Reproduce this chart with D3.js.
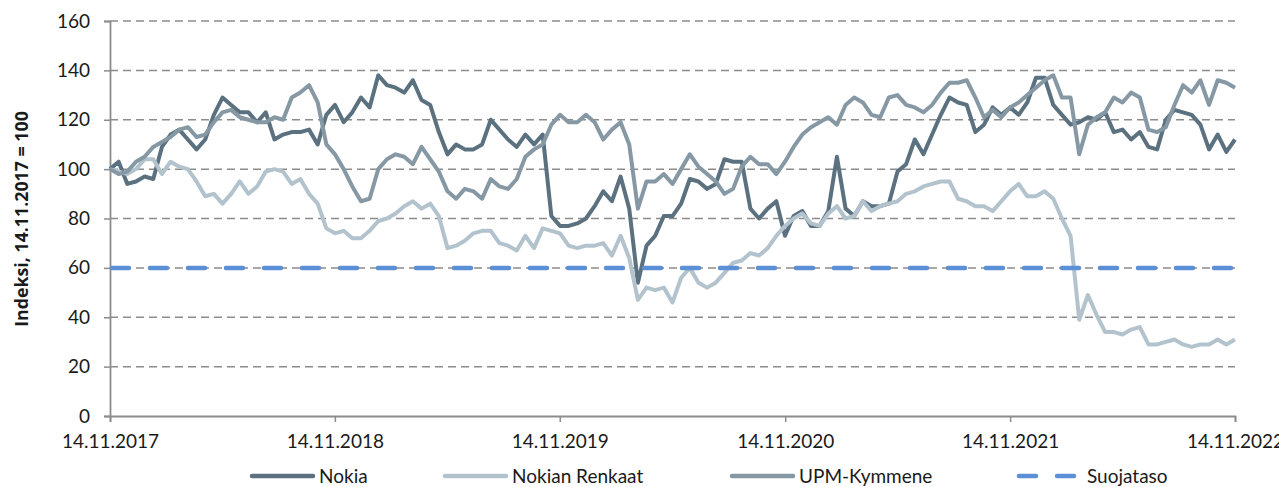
<!DOCTYPE html>
<html><head><meta charset="utf-8">
<script src="https://cdn.jsdelivr.net/npm/d3@7"></script>
<style>
html,body{margin:0;padding:0;background:#fff;}
svg{display:block;}
text{font-family:Lato,"Open Sans",sans-serif;fill:#1a1a1a;}
</style></head>
<body>
<svg id="chart" width="1279" height="487"></svg>
<script>
// ---- data ----
const startDate = "2017-11-14";
const endDate = "2022-11-14";
const yTicks = [0,20,40,60,80,100,120,140,160];
const xTickLabels = ["14.11.2017","14.11.2018","14.11.2019","14.11.2020","14.11.2021","14.11.2022"];
const seriesNames = ["Nokia","Nokian Renkaat","UPM-Kymmene","Suojataso"];
const nokia = [100,103,94,95,97,96,109,114,116,112,108,112,122,129,126,123,123,119,123,112,114,115,115,116,110,122,126,119,123,129,125,138,134,133,131,136,128,126,115,106,110,108,108,110,
120,116,112,109,114,110,114,81,77,77,78,80,85,91,87,97,84,54,69,73,81,81,86,96,95,92,94,104,103,103,84,80,84,87,73,81,83,77,77,83,105,84,81,
87,85,85,86,99,102,112,106,114,122,129,127,126,115,118,125,122,125,122,127,137,137,126,122,118,119,121,120,123,115,116,112,115,109,108,120,124,123,122,118,108,114,107,112];
const nokianRenkaat = [100,99,98,100,104,104,98,103,101,100,95,89,90,86,90,95,90,93,99,100,99,94,96,90,86,76,74,75,72,72,75,79,80,82,85,87,84,86,81,68,69,71,74,75,
75,70,69,67,73,68,76,75,74,69,68,69,69,70,65,73,64,47,52,51,52,46,56,60,54,52,54,58,62,63,66,65,68,73,77,80,82,78,77,82,85,80,81,
87,83,85,86,87,90,91,93,94,95,95,88,87,85,85,83,87,91,94,89,89,91,88,80,73,39,49,41,34,34,33,35,36,29,29,30,31,29,28,29,29,31,29,31];
const upm = [100,98,99,103,105,109,111,113,116,117,113,114,119,123,124,121,120,119,119,121,120,129,131,134,127,110,106,100,93,87,88,100,104,106,105,102,109,104,99,91,88,92,91,88,
96,93,92,96,105,108,110,118,122,119,119,122,119,112,116,119,110,84,95,95,98,94,100,106,101,98,95,90,92,101,105,102,102,98,103,109,114,117,119,121,118,126,129,
127,122,121,129,130,126,125,123,126,131,135,135,136,129,121,124,121,125,127,130,133,136,138,129,129,106,118,121,123,129,127,131,129,116,115,117,126,134,131,136,126,136,135,133];
const suojataso = 60;
const colors = ["#5b717f","#b3c3cd","#8698a4","#5b8fd6"];

// ---- layout ----
const svg = d3.select("#chart");
const L = 110, R = 1235, T = 21, B = 416;
const parse = d3.timeParse("%Y-%m-%d");
const d0 = parse(startDate), d1 = parse(endDate);
const n = nokia.length;
const dates = d3.range(n).map(i => new Date(+d0 + (d1 - d0) * i / (n - 1)));
const x = d3.scaleTime().domain([d0, d1]).range([L, R]);
const y = d3.scaleLinear().domain([0, 160]).range([B, T]);
const yearTicks = xTickLabels.map(s => { const p = s.split("."); return new Date(+p[2], +p[1]-1, +p[0]); });

// gridlines
svg.append("g").selectAll("line").data(yTicks.filter(v => v > 0)).join("line")
  .attr("x1", L).attr("x2", R).attr("y1", d => y(d)).attr("y2", d => y(d))
  .attr("stroke", "#8c8c8c").attr("stroke-width", 1.5).attr("stroke-dasharray", "8,5");

// y axis
const yAxis = d3.axisLeft(y).tickValues(yTicks).tickSize(6).tickPadding(14).tickFormat(d3.format("d"));
const gy = svg.append("g").attr("transform", `translate(${L},0)`).call(yAxis);
gy.select(".domain").attr("stroke", "#8c8c8c").attr("stroke-width", 1.8);
gy.selectAll(".tick line").attr("stroke", "#8c8c8c").attr("stroke-width", 1.5);
gy.selectAll(".tick text").attr("font-size", 19).attr("font-family", "Lato").attr("fill", "#1a1a1a");

// x axis
const xAxis = d3.axisBottom(x).tickValues(yearTicks).tickSize(6).tickPadding(13)
  .tickFormat((d, i) => xTickLabels[i]);
const gx = svg.append("g").attr("transform", `translate(0,${B})`).call(xAxis);
gx.select(".domain").attr("stroke", "#8c8c8c").attr("stroke-width", 1.8);
gx.selectAll(".tick line").attr("stroke", "#8c8c8c").attr("stroke-width", 1.5);
gx.selectAll(".tick text").attr("font-size", 19).attr("font-family", "Lato").attr("fill", "#1a1a1a");

// y title
svg.append("text").attr("transform", `translate(28,219) rotate(-90)`)
  .attr("text-anchor", "middle").attr("font-size", 17.8).attr("font-weight", "bold")
  .style("font-family", "'Open Sans', sans-serif")
  .text("Indeksi, 14.11.2017 = 100");

// series
const line = d3.line().x((d, i) => x(dates[i])).y(d => y(d));
[nokia, nokianRenkaat, upm].forEach((s, k) => {
  svg.append("path").datum(s).attr("d", line).attr("fill", "none")
    .attr("stroke", colors[k]).attr("stroke-width", 4).attr("stroke-linejoin", "round");
});
svg.append("line").attr("x1", x(d0)).attr("x2", x(d1)).attr("y1", y(suojataso)).attr("y2", y(suojataso))
  .attr("stroke", colors[3]).attr("stroke-width", 4.5).attr("stroke-linecap", "round")
  .attr("stroke-dasharray", "17,21").attr("stroke-dashoffset", -2);

// legend
const legX = [250, 443, 730, 1017];
const lg = svg.append("g");
seriesNames.forEach((name, k) => {
  const g = lg.append("g").attr("transform", `translate(${legX[k]},476)`);
  if (k < 3) {
    g.append("line").attr("x1", 2).attr("x2", 63).attr("stroke", colors[k]).attr("stroke-width", 4.5).attr("stroke-linecap", "round");
    g.append("text").attr("x", 69).attr("y", 0).attr("dy", "0.35em").attr("font-size", 19).text(name);
  } else {
    g.append("line").attr("x1", 2).attr("x2", 60).attr("stroke", colors[k]).attr("stroke-width", 4.5)
      .attr("stroke-linecap", "round").attr("stroke-dasharray", "17,21");
    g.append("text").attr("x", 70).attr("y", 0).attr("dy", "0.35em").attr("font-size", 19).text(name);
  }
});
</script>
</body></html>
